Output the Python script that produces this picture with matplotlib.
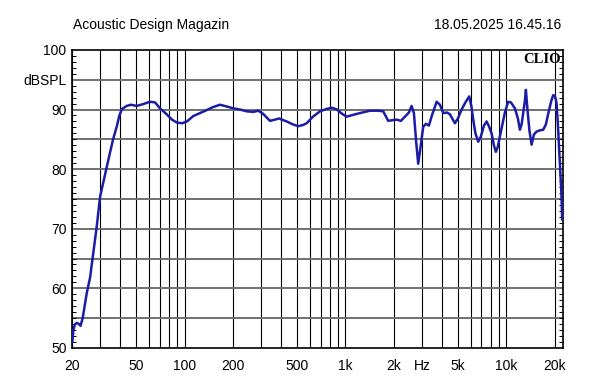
import numpy as np
import matplotlib.pyplot as plt
from matplotlib.ticker import FixedLocator, NullFormatter, MultipleLocator

# frequency response (Hz, dBSPL)
freq = [20.1, 20.4, 20.9, 21.5, 22.1, 22.6, 23.3, 24.7, 25.9, 27.0, 28.5, 29.9,
        31.3, 32.8, 34.4, 36.0, 37.9, 39.4, 40.9, 43.7, 46.5, 50.5, 55.2, 61.0,
        65.6, 70.4, 77.5, 83.6, 89.8, 96.5, 103.6, 113.3, 124.8, 137.3, 150.2,
        166.1, 183.6, 200.9, 221.1, 243.3, 267.4, 287.2, 307.1, 339.6, 364.6,
        386.1, 431.0, 471.7, 508.9, 544.3, 574.0, 628.3, 694.6, 764.0, 824.2,
        885.2, 950.7, 1017, 1113, 1230, 1419, 1591, 1716, 1843, 1943, 2079,
        2211, 2342, 2479, 2576, 2662, 2751, 2831, 2930, 3041, 3161, 3299, 3444,
        3685, 3863, 4049, 4270, 4456, 4786, 4996, 5268, 5563, 5874, 6062, 6219,
        6418, 6681, 6944, 7248, 7531, 7783, 8087, 8359, 8601, 8852, 9109, 9441,
        9783, 10254, 10657, 11289, 11783, 12126, 12426, 12712, 13026, 13214,
        13462, 13891, 14335, 14815, 15397, 16142, 16922, 17588, 18360, 19026,
        19521, 20000, 20493, 20878, 21487, 21953, 22204]
spl = [51.0, 53.0, 54.0, 54.2, 54.0, 53.7, 55.0, 59.2, 61.8, 65.5, 70.4, 75.4,
       77.8, 80.3, 82.7, 85.0, 87.1, 89.0, 90.1, 90.6, 90.8, 90.6, 90.9, 91.3,
       91.2, 90.2, 89.2, 88.3, 87.8, 87.7, 88.0, 88.9, 89.4, 89.9, 90.4,
       90.8, 90.5, 90.2, 90.0, 89.7, 89.6, 89.8, 89.3, 88.1, 88.3,
       88.5, 88.0, 87.5, 87.2, 87.4, 87.7, 88.8, 89.7, 90.1, 90.3,
       90.0, 89.3, 88.8, 89.1, 89.4, 89.8, 89.8, 89.7, 88.1, 88.2, 88.3,
       88.1, 88.8, 89.5, 90.6, 89.4, 84.5, 80.9, 83.8, 87.1, 87.6, 87.3, 89.0,
       91.3, 90.8, 89.4, 89.5, 89.2, 87.7, 88.5, 90.0, 91.2, 92.2, 90.5, 88.3,
       86.0, 84.6, 85.5, 87.3, 88.0, 87.2, 86.0, 84.0, 82.9, 83.8, 85.5, 87.5,
       89.5, 91.3, 91.2, 90.2, 88.5, 86.6, 87.5, 89.4, 91.5, 93.3,
       90.5, 86.5, 84.1, 85.8, 86.3, 86.5, 86.6, 87.5, 89.8, 91.5,
       92.4, 92.3, 91.1, 87.5, 81.0, 76.0, 71.5]

grid_freqs = [20, 30, 40, 50, 60, 70, 80, 90, 100, 200, 300, 400, 500, 600,
              700, 800, 900, 1000, 2000, 3000, 4000, 5000, 6000, 7000, 8000,
              9000, 10000, 20000]
xtick_pos = [20, 50, 100, 200, 500, 1000, 2000, 3000, 5000, 10000, 20000]
xtick_lab = ['20', '50', '100', '200', '500', '1k', '2k', 'Hz', '5k', '10k', '20k']
ytick_pos = [50, 60, 70, 80, 90, 95, 100]
ytick_lab = ['50', '60', '70', '80', '90', 'dBSPL', '100']

plt.rcParams['font.family'] = ['Liberation Sans', 'DejaVu Sans']

fig = plt.figure(figsize=(6, 3.84), dpi=100)
ax = fig.add_axes([0.12, 0.094, 0.818, 0.776])

ax.set_xscale('log')
ax.set_xlim(20, 22400)
ax.set_ylim(50, 100)

for f in grid_freqs:
    ax.axvline(f, color='black', lw=0.8, zorder=1)
for v in range(55, 100, 5):
    ax.axhline(v, color='#707070', lw=1.4, zorder=1)

ax.plot(freq, spl, color='#1c1ca8', lw=1.8, zorder=3,
        solid_joinstyle='round', solid_capstyle='round')

ax.xaxis.set_major_locator(FixedLocator(xtick_pos))
ax.set_xticklabels(xtick_lab)
ax.xaxis.set_minor_formatter(NullFormatter())
ax.xaxis.set_minor_locator(FixedLocator([]))
ax.tick_params(axis='x', length=0, labelsize=10, pad=8)

ax.set_yticks(ytick_pos)
ax.set_yticklabels(ytick_lab)
ax.yaxis.set_minor_locator(MultipleLocator(1))
ax.tick_params(axis='y', which='major', length=0, labelsize=10, pad=4)
ax.tick_params(axis='y', which='minor', direction='in', length=3,
               left=True, right=True, width=0.7)

for s in ax.spines.values():
    s.set_linewidth(1.2)
    s.set_color('black')

ax.text(0.997, 0.99, 'CLIO', transform=ax.transAxes, ha='right', va='top',
        fontsize=10.5, fontweight='bold', family='Liberation Serif', zorder=4)

fig.text(0.122, 0.935, 'Acoustic Design Magazin', fontsize=10, ha='left', va='center')
fig.text(0.936, 0.935, '18.05.2025 16.45.16', fontsize=10, ha='right', va='center')

fig.savefig('out.png', dpi=100)
